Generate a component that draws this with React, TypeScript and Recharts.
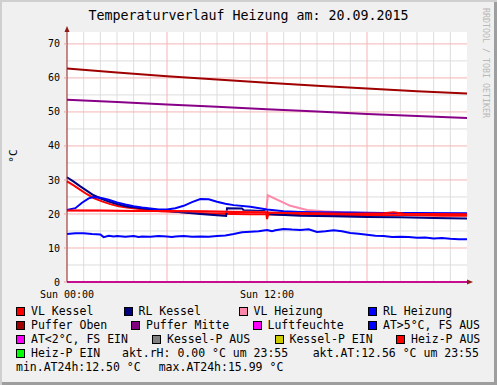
import React from 'react';
import { LineChart, Line, XAxis, YAxis, CartesianGrid, ReferenceDot } from 'recharts';

const FONT = '"DejaVu Sans Mono", monospace';

// axes / grid
const xTickHours = [0, 12];
const xTickLabels = ['Sun 00:00', 'Sun 12:00'];
const yTicks = [0, 10, 20, 30, 40, 50, 60, 70];
const yMinorGrid = [5, 15, 25, 35, 45, 55, 65];
const yMajorGrid = [10, 20, 30, 40, 50, 60, 70];
const xMinorGrid = [1, 2, 3, 4, 5, 7, 8, 9, 10, 11, 13, 14, 15, 16, 17, 19, 20, 21, 22, 23];
const xMajorGrid = [6, 12, 18];

// series (hours since 00:00, °C)
const pufferT = [0, 3, 6, 9, 12, 15, 18, 21, 24];
const pufferObenV = [62.8, 61.6, 60.5, 59.5, 58.6, 57.7, 56.9, 56.1, 55.4];
const pufferMitteV = [53.6, 52.9, 52.2, 51.5, 50.8, 50.1, 49.4, 48.8, 48.2];

const vlKesselT = [0, 0.4, 0.8, 1.2, 1.6, 2.1, 2.6, 3.1, 3.6, 4.6, 5.6, 7, 8, 9, 10, 11, 12, 13, 14, 16, 18, 19.5, 21, 22.5, 24];
const vlKesselV = [29.6, 28.4, 27.1, 25.8, 24.7, 23.7, 22.9, 22.3, 21.9, 21.3, 20.8, 20.5, 20.3, 20.1, 20.0, 19.9, 19.9, 19.8, 19.8, 19.7, 19.7, 19.8, 19.6, 19.5, 19.5];

const rlKesselT = [0, 0.4, 0.8, 1.2, 1.6, 2.1, 2.6, 3.1, 3.6, 4.6, 5.6, 7, 8, 9, 9.55, 9.6, 10.5, 10.6, 12, 12.1, 14, 16, 18, 20, 22, 24];
const rlKesselV = [30.8, 29.5, 28.1, 26.8, 25.5, 24.4, 23.5, 22.8, 22.2, 21.6, 21.1, 20.4, 20.0, 19.6, 19.4, 21.7, 21.6, 21.1, 20.8, 19.9, 19.5, 19.3, 19.1, 19.0, 18.8, 18.7];

const vlHeizT = [0, 4, 8, 11.95, 12.05, 12.6, 13.4, 14.4, 15.4, 16.5, 18, 20, 22, 24];
const vlHeizV = [21.0, 20.9, 20.8, 20.6, 25.5, 24.2, 22.4, 21.2, 20.8, 20.5, 20.3, 20.2, 20.1, 20.0];

const rlHeizT = [0, 0.5, 0.9, 1.3, 1.6, 2, 2.5, 3, 3.5, 4, 4.5, 5, 5.5, 6, 6.5, 7, 7.5, 8, 8.5, 9, 9.5, 10, 11, 12, 13, 14, 15, 17, 19, 21, 24];
const rlHeizV = [21.2, 21.7, 23.3, 24.6, 25.0, 24.8, 24.2, 23.4, 22.8, 22.3, 21.9, 21.6, 21.3, 21.3, 21.7, 22.4, 23.5, 24.4, 24.3, 23.6, 23.0, 22.6, 22.1, 21.3, 20.8, 20.6, 20.5, 20.4, 20.3, 20.3, 20.2];

const heizPAusT = [0, 2, 4, 6, 8, 10, 11.95, 12.0, 12.1, 13, 15, 17, 19, 19.6, 20.2, 22, 24];
const heizPAusV = [21.0, 21.0, 20.9, 20.9, 20.8, 20.6, 20.5, 18.5, 20.4, 20.3, 20.2, 20.1, 20.2, 20.5, 20.1, 20.0, 19.9];

const luftT = [0, 24];
const luftV = [0, 0];

const atT = [0, 0.5, 1, 1.5, 2, 2.2, 2.5, 2.8, 3, 3.5, 4, 4.3, 4.5, 5, 5.5, 6, 6.3, 6.5, 7, 7.5, 8, 8.5, 9, 9.5, 10, 10.5, 11, 11.5, 12, 12.3, 12.5, 13, 13.5, 14, 14.5, 15, 15.5, 16, 16.5, 17, 17.5, 18, 18.5, 19, 19.5, 20, 20.5, 21, 21.5, 22, 22.5, 23, 23.5, 24];
const atV = [14.1, 14.3, 14.3, 14.1, 14.0, 13.2, 13.6, 13.4, 13.5, 13.3, 13.5, 13.2, 13.4, 13.3, 13.5, 13.4, 13.2, 13.4, 13.5, 13.3, 13.4, 13.3, 13.5, 13.7, 14.1, 14.6, 14.8, 14.9, 15.3, 14.9, 15.2, 15.6, 15.4, 15.3, 15.5, 14.7, 14.9, 15.2, 14.9, 14.4, 14.2, 13.9, 13.6, 13.5, 13.2, 13.3, 13.2, 13.0, 13.1, 12.8, 12.9, 12.7, 12.6, 12.56];

const zip = (t: number[], v: number[]) => t.map((x, i) => ({ t: x, v: v[i] }));

const series = [
  { name: 'VL Kessel', color: '#FF0000', data: zip(vlKesselT, vlKesselV) },
  { name: 'RL Kessel', color: '#000080', data: zip(rlKesselT, rlKesselV) },
  { name: 'VL Heizung', color: '#FF88AA', data: zip(vlHeizT, vlHeizV) },
  { name: 'RL Heizung', color: '#0000FF', data: zip(rlHeizT, rlHeizV) },
  { name: 'Puffer Oben', color: '#A00000', data: zip(pufferT, pufferObenV) },
  { name: 'Puffer Mitte', color: '#880088', data: zip(pufferT, pufferMitteV) },
  { name: 'Luftfeuchte', color: '#FF00FF', data: zip(luftT, luftV) },
  { name: 'AT>5°C, FS AUS', color: '#0000FF', data: zip(atT, atV) },
  { name: 'Heiz-P AUS', color: '#FF0000', data: zip(heizPAusT, heizPAusV) },
];

// legend
const legendRows = [
  [['VL Kessel', '#FF0000'], ['RL Kessel', '#000080'], ['VL Heizung', '#FF88AA'], ['RL Heizung', '#0000FF']],
  [['Puffer Oben', '#A00000'], ['Puffer Mitte', '#800080'], ['Luftfeuchte', '#FF00FF'], ['AT>5°C, FS AUS', '#0000FF']],
  [['AT<2°C, FS EIN', '#FF00FF'], ['Kessel-P AUS', '#808080'], ['Kessel-P EIN', '#CCCC00'], ['Heiz-P AUS', '#FF0000']],
  [['Heiz-P EIN', '#00FF00']],
];
const infoTexts = ['akt.rH: 0.00 °C um 23:55', 'akt.AT:12.56 °C um 23:55', 'min.AT24h:12.50 °C', 'max.AT24h:15.99 °C'];

const legendX = [
  [16, 123.5, 238.5, 368],
  [16, 131, 252.5, 368],
  [16, 152, 274.5, 396],
  [16],
];
const rowY = [311, 325, 339, 353, 367];
const infoPos = [[122, 353], [312.7, 353], [16, 367], [158.7, 367]];

const AXIS = '#8E1B1B';

const YArrow = (p: any) => (
  <g>
    <line x1={p.cx} y1={p.cy} x2={p.cx} y2={p.cy - 2} stroke={AXIS} strokeWidth={1} />
    <path d={`M${p.cx - 2.5},${p.cy} L${p.cx + 2.5},${p.cy} L${p.cx},${p.cy - 6} Z`} fill={AXIS} />
  </g>
);
const XArrow = (p: any) => (
  <g>
    <line x1={p.cx} y1={p.cy} x2={p.cx + 2} y2={p.cy} stroke={AXIS} strokeWidth={1} />
    <path d={`M${p.cx},${p.cy - 2.5} L${p.cx},${p.cy + 2.5} L${p.cx + 6},${p.cy} Z`} fill={AXIS} />
  </g>
);

export default function App() {
  const textStyle: React.CSSProperties = {
    position: 'absolute',
    fontFamily: FONT,
    fontSize: 11.5,
    lineHeight: '14px',
    color: '#000',
    whiteSpace: 'pre',
  };
  return (
    <div
      style={{
        position: 'fixed',
        left: 0,
        top: 0,
        width: 497,
        height: 385,
        background: '#F0F0F0',
        boxShadow: 'inset 2px 2px 0 #CFCFCF, inset -3px -3px 0 #9E9E9E',
        overflow: 'hidden',
      }}
    >
      <div
        style={{
          position: 'absolute',
          left: 0,
          top: 8,
          width: 497,
          textAlign: 'center',
          fontFamily: FONT,
          fontSize: 13.3,
          lineHeight: '16px',
          color: '#000',
        }}
      >
        Temperaturverlauf Heizung am: 20.09.2015
      </div>
      <div
        style={{
          position: 'absolute',
          left: 491,
          top: 8,
          transform: 'rotate(90deg)',
          transformOrigin: '0 0',
          fontFamily: FONT,
          fontSize: 8.3,
          lineHeight: '10px',
          color: '#B8B8B8',
          whiteSpace: 'pre',
        }}
      >
        RRDTOOL / TOBI OETIKER
      </div>
      <div
        style={{
          position: 'absolute',
          left: 14,
          top: 156,
          transform: 'translate(-50%, -50%) rotate(-90deg)',
          fontFamily: FONT,
          fontSize: 11,
          lineHeight: '12px',
          color: '#000',
        }}
      >
        °C
      </div>
      <div style={{ position: 'absolute', left: 0, top: 0 }}>
        <LineChart width={497} height={385} margin={{ top: 32, right: 30, bottom: 0, left: 0 }}>
          <CartesianGrid
            fill="#FFFFFF"
            stroke="#DDDDDD"
            horizontalValues={yMinorGrid}
            verticalValues={xMinorGrid}
          />
          <CartesianGrid
            stroke="#F4B4B4"
            horizontalValues={yMajorGrid}
            verticalValues={xMajorGrid}
          />
          <XAxis
            type="number"
            dataKey="t"
            domain={[0, 24]}
            ticks={xTickHours}
            tickFormatter={(v: number) => xTickLabels[xTickHours.indexOf(v)] ?? ''}
            height={103}
            stroke={AXIS}
            tickLine={false}
            tickSize={4}
            tickMargin={5}
            tick={{ fill: '#000', fontSize: 10, fontFamily: FONT }}
            allowDuplicatedCategory={false}
          />
          <YAxis
            type="number"
            domain={[0, 73.5]}
            ticks={yTicks}
            width={67}
            stroke={AXIS}
            tickSize={3}
            tickMargin={4}
            tickLine={{ stroke: '#E8A0A0' }}
            tick={{ fill: '#000', fontSize: 10, fontFamily: FONT }}
          />
          {series.map((s) => (
            <Line
              key={s.name}
              data={s.data}
              dataKey="v"
              type="linear"
              stroke={s.color}
              strokeWidth={2}
              dot={false}
              activeDot={false}
              isAnimationActive={false}
            />
          ))}
          <ReferenceDot x={0} y={73.5} r={0} shape={YArrow} ifOverflow="visible" />
          <ReferenceDot x={24} y={0} r={0} shape={XArrow} ifOverflow="visible" />
        </LineChart>
      </div>
      {legendRows.map((row, ri) =>
        row.map((item, ci) => {
          const x = legendX[ri][ci];
          const y = rowY[ri];
          return (
            <React.Fragment key={`${ri}-${ci}`}>
              <div
                style={{
                  position: 'absolute',
                  left: x,
                  top: y - 4.5,
                  width: 7,
                  height: 7,
                  background: item[1],
                  border: '1px solid #000',
                }}
              />
              <div style={{ ...textStyle, left: x + 15, top: y - 7 }}>{item[0]}</div>
            </React.Fragment>
          );
        })
      )}
      {infoTexts.map((t, i) => (
        <div key={t} style={{ ...textStyle, left: infoPos[i][0], top: infoPos[i][1] - 7 }}>
          {t}
        </div>
      ))}
    </div>
  );
}
